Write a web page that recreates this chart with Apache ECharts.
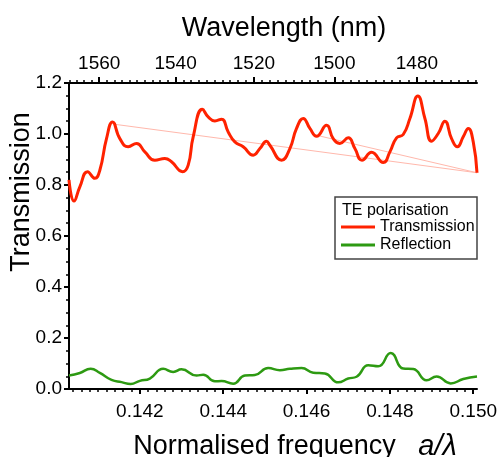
<!DOCTYPE html>
<html>
<head>
<meta charset="utf-8">
<script src="https://cdn.jsdelivr.net/npm/echarts@6/dist/echarts.min.js"></script>
<style>
html,body{margin:0;padding:0;background:#fff;}
#c{width:503px;height:457px;}
</style>
</head>
<body>
<div id="c"></div>
<script>
// ---- data ----
const latticeNm = 220; // a (nm): wavelength = a / (normalised frequency)

const transFreq = [0.1403,0.14042,0.14056,0.140745,0.14092,0.14104,0.1412,0.141345,0.14152,0.14172,0.14192,0.14212,0.14236,0.1426,0.14276,0.143025,0.14316,0.14328,0.1435,0.14364,0.1438,0.14396,0.14412,0.14428,0.14448,0.14472,0.14488,0.14504,0.14512,0.1454,0.1456,0.14576,0.14592,0.14608,0.14624,0.14648,0.14664,0.1468,0.147,0.14716,0.14733,0.14756,0.14784,0.148,0.14816,0.14832,0.14848,0.14867,0.14884,0.149,0.14916,0.14932,0.14948,0.14962,0.14976,0.14988,0.15,0.15009];
const transVal  = [0.82,0.737,0.793,0.852,0.826,0.858,0.982,1.047,0.982,0.95,0.963,0.93,0.897,0.904,0.891,0.852,0.878,0.989,1.097,1.067,1.051,1.058,1.008,0.969,0.95,0.917,0.943,0.972,0.956,0.897,0.943,1.022,1.061,1.022,0.991,1.034,0.982,0.963,0.985,0.943,0.897,0.928,0.888,0.93,0.985,0.998,1.061,1.149,1.061,0.972,1.002,1.05,0.982,0.95,0.989,1.022,0.969,0.848];

const reflFreq = [0.1403,0.14056,0.14082,0.14104,0.14132,0.14156,0.14178,0.142,0.14224,0.14256,0.1428,0.143,0.14336,0.14352,0.1438,0.14396,0.14424,0.14452,0.14476,0.14508,0.14536,0.1456,0.14588,0.14616,0.14644,0.14676,0.147,0.1472,0.14748,0.14772,0.14802,0.14832,0.14856,0.14888,0.14912,0.14946,0.14976,0.15009];
const reflVal  = [0.053,0.063,0.079,0.063,0.036,0.027,0.02,0.032,0.041,0.079,0.067,0.077,0.053,0.056,0.03,0.031,0.021,0.053,0.055,0.082,0.074,0.079,0.082,0.064,0.061,0.026,0.041,0.048,0.093,0.089,0.141,0.08,0.078,0.034,0.049,0.022,0.039,0.049];

// thin closing segments drawn in the original plot
const closeFreq = [0.1414,0.15009,0.14624];
const closeVal  = [1.038,0.848,0.995];

const freqTicks = [0.142,0.144,0.146,0.148,0.150];
const waveTicks = [1560,1540,1520,1500,1480];
const xMin = 0.1403, xMax = 0.15009;

// ---- helpers ----
const pairs = (xs, ys) => xs.map((x, i) => [x, ys[i]]);
const freqMinor = [];
for (let k = 0; k <= 50; k++) {
  const f = +(0.1402 + k * 0.0002).toFixed(5);
  if (f > xMin && f <= xMax && !freqTicks.some(t => Math.abs(t - f) < 1e-7)) freqMinor.push(f);
}
const waveMajorF = waveTicks.map(w => latticeNm / w);
const waveMinorF = [];
for (let w = 1570; w >= 1460; w -= 2) {
  const f = latticeNm / w;
  if (f > xMin && f < xMax && !waveTicks.includes(w)) waveMinorF.push(f);
}

const FONT = 'Liberation Sans, Arial, sans-serif';
const black = '#000';

const chart = echarts.init(document.getElementById('c'), null, {renderer: 'canvas'});
const baseX = {
  type: 'value', min: xMin, max: xMax, splitLine: {show: false}, nameMoveOverlap: false,
  axisLine: {show: true, lineStyle: {color: black, width: 2}}
};
chart.setOption({
  animation: false,
  backgroundColor: '#fff',
  grid: {left: 69, right: 26, top: 83, bottom: 68, containLabel: false, outerBoundsMode: 'none'},
  xAxis: [
    Object.assign({}, baseX, {
      position: 'bottom',
      axisTick: {show: true, customValues: freqTicks, length: 5, lineStyle: {color: black, width: 2}},
      axisLabel: {show: true, customValues: freqTicks, formatter: v => v.toFixed(3), fontSize: 19, fontFamily: FONT, color: black, margin: 13},
      name: '{n|Normalised frequency}   {i|a/λ}',
      nameLocation: 'middle', nameGap: 43,
      nameTextStyle: {fontSize: 27, fontFamily: FONT, color: black, padding: [0,0,0,44],
        rich: {n: {fontSize: 27, fontFamily: FONT, color: black}, i: {fontSize: 29, fontFamily: FONT, fontStyle: 'italic', color: black}}}
    }),
    Object.assign({}, baseX, {
      position: 'bottom', axisLine: {show: false},
      axisTick: {show: true, customValues: freqMinor, length: 3, lineStyle: {color: black, width: 1.5}},
      axisLabel: {show: false}
    }),
    Object.assign({}, baseX, {
      position: 'top',
      axisTick: {show: true, customValues: waveMajorF, length: 6, lineStyle: {color: black, width: 2}},
      axisLabel: {show: true, customValues: waveMajorF, formatter: v => String(Math.round(latticeNm / v)), fontSize: 19, fontFamily: FONT, color: black, margin: 10},
      name: 'Wavelength (nm)', nameLocation: 'middle', nameGap: 41,
      nameTextStyle: {fontSize: 27, fontFamily: FONT, color: black, padding: [0,0,0,22]}
    }),
    Object.assign({}, baseX, {
      position: 'top', axisLine: {show: false},
      axisTick: {show: true, customValues: waveMinorF, length: 3, lineStyle: {color: black, width: 1.5}},
      axisLabel: {show: false}
    })
  ],
  yAxis: {
    type: 'value', min: 0, max: 1.2, interval: 0.2, nameMoveOverlap: false,
    axisLine: {show: true, lineStyle: {color: black, width: 2}},
    axisTick: {show: true, length: 5, lineStyle: {color: black, width: 2}},
    minorTick: {show: true, splitNumber: 4, length: 3, lineStyle: {color: black, width: 1.5}},
    splitLine: {show: false}, minorSplitLine: {show: false},
    axisLabel: {formatter: v => v.toFixed(1), fontSize: 19, fontFamily: FONT, color: black, margin: 7},
    name: 'Transmission', nameLocation: 'middle', nameGap: 34,
    nameTextStyle: {fontSize: 27, fontFamily: FONT, color: black, padding: [0,0,0,88]}
  },
  legend: {
    data: ['Transmission', 'Reflection'],
    orient: 'vertical', left: 341, top: 219, padding: 0, itemGap: 2,
    icon: 'rect', itemWidth: 34, itemHeight: 3,
    textStyle: {fontSize: 16, fontFamily: FONT, color: black, lineHeight: 16},
    z: 6
  },
  graphic: [
    {type: 'rect', z: 3, shape: {x: 335, y: 197, width: 142, height: 62},
     style: {fill: '#fff', stroke: '#444', lineWidth: 1.5}},
    {type: 'text', z: 6, x: 342, y: 211,
     style: {text: 'TE polarisation', font: '16px ' + FONT, fill: black, verticalAlign: 'middle'}}
  ],
  series: [
    {name: 'close', type: 'line', xAxisIndex: 0, data: pairs(closeFreq, closeVal), showSymbol: false, silent: true,
     lineStyle: {color: '#ffb8ac', width: 1}, z: 1},
    {name: 'Transmission', type: 'line', xAxisIndex: 0, data: pairs(transFreq, transVal), smooth: 0.5, showSymbol: false,
     color: '#ff2200', lineStyle: {color: '#ff2200', width: 3}, z: 3},
    {name: 'Reflection', type: 'line', xAxisIndex: 0, data: pairs(reflFreq, reflVal), smooth: 0.5, showSymbol: false,
     color: '#2d9a12', lineStyle: {color: '#2d9a12', width: 2.5}, z: 3}
  ]
});
</script>
</body>
</html>
